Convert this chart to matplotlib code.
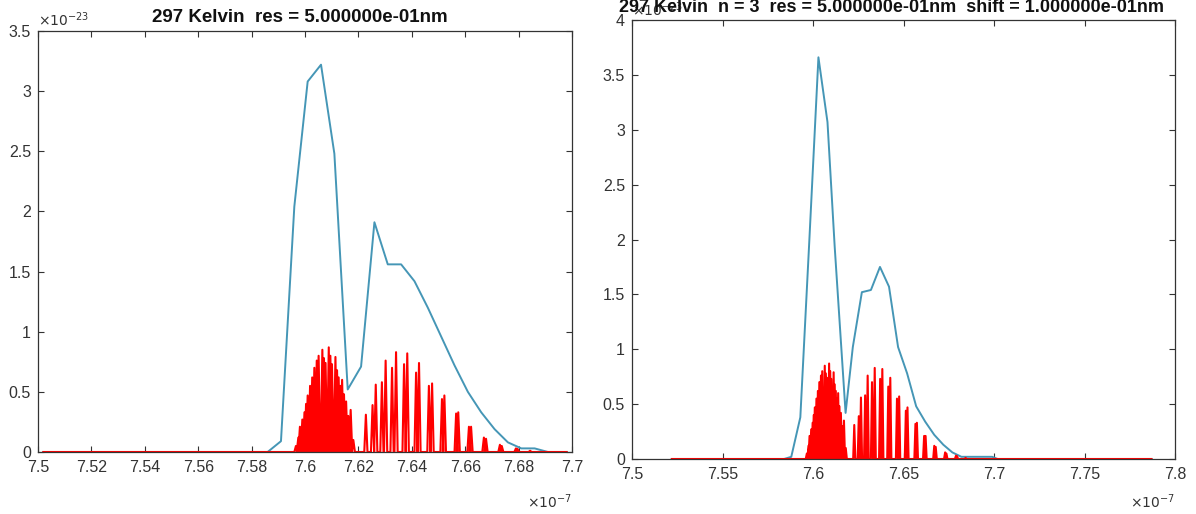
import matplotlib
matplotlib.use("Agg")
import matplotlib.pyplot as plt
import numpy as np

plt.rcParams['font.family'] = ['Liberation Sans', 'DejaVu Sans']

# ---------------- data (x in 1e-7 m, y in 1e-23) ----------------
# left panel, blue convolved spectrum
blue_left_x = [7.502, 7.586, 7.591, 7.596, 7.601, 7.606, 7.611, 7.616, 7.621, 7.626,
               7.631, 7.636, 7.641, 7.646, 7.651, 7.656, 7.661, 7.666, 7.671, 7.676,
               7.681, 7.686, 7.691, 7.698]
blue_left_y = [0.0, 0.0, 0.09, 2.04, 3.08, 3.22, 2.48, 0.52, 0.71, 1.91,
               1.56, 1.56, 1.42, 1.20, 0.96, 0.72, 0.50, 0.33, 0.19, 0.08,
               0.03, 0.03, 0.0, 0.0]

# right panel, blue convolved spectrum (n = 3, shifted)
blue_right_x = [7.522, 7.584, 7.588, 7.593, 7.598, 7.603, 7.608, 7.612, 7.618, 7.622,
                7.627, 7.632, 7.637, 7.642, 7.647, 7.652, 7.657, 7.662, 7.667, 7.672,
                7.677, 7.682, 7.690, 7.699, 7.702, 7.787]
blue_right_y = [0.0, 0.0, 0.02, 0.38, 2.00, 3.66, 3.07, 1.93, 0.42, 1.02,
                1.52, 1.54, 1.75, 1.57, 1.02, 0.78, 0.48, 0.34, 0.22, 0.13,
                0.06, 0.02, 0.02, 0.02, 0.0, 0.0]

# red line-by-line spectrum: line centres and peak heights
line_centres = [7.5966, 7.5975, 7.5981, 7.5990, 7.5998, 7.6004, 7.6010, 7.6019, 7.6027,
                7.6035, 7.6044, 7.6051, 7.6065, 7.6071, 7.6077, 7.6089, 7.6095, 7.6101,
                7.6114, 7.6120, 7.6126, 7.6132, 7.6139, 7.6146, 7.6154, 7.6162, 7.6171,
                7.6181,
                7.6228, 7.6253, 7.6265, 7.6288, 7.6302, 7.6326, 7.6341, 7.6371, 7.6383,
                7.6416, 7.6427, 7.6464, 7.6476, 7.6513, 7.6522, 7.6566, 7.6574, 7.6614,
                7.6622, 7.6670, 7.6678, 7.6730, 7.6737, 7.6790, 7.6796, 7.6843]
line_heights = [0.05, 0.12, 0.21, 0.27, 0.33, 0.40, 0.47, 0.55, 0.62,
                0.70, 0.76, 0.80, 0.85, 0.78, 0.74, 0.87, 0.80, 0.73,
                0.79, 0.68, 0.62, 0.55, 0.60, 0.48, 0.42, 0.30, 0.35,
                0.10,
                0.31, 0.39, 0.56, 0.58, 0.76, 0.70, 0.83, 0.73, 0.82,
                0.66, 0.74, 0.55, 0.57, 0.44, 0.47, 0.32, 0.33, 0.21,
                0.21, 0.12, 0.11, 0.06, 0.05, 0.03, 0.025, 0.01]
red_left_range = [7.502, 7.698]
red_right_range = [7.522, 7.787]

left_xticks = [7.5, 7.52, 7.54, 7.56, 7.58, 7.6, 7.62, 7.64, 7.66, 7.68, 7.7]
left_xticklabels = ['7.5', '7.52', '7.54', '7.56', '7.58', '7.6', '7.62', '7.64', '7.66', '7.68', '7.7']
left_yticks = [0, 0.5, 1, 1.5, 2, 2.5, 3, 3.5]
left_yticklabels = ['0', '0.5', '1', '1.5', '2', '2.5', '3', '3.5']
right_xticks = [7.5, 7.55, 7.6, 7.65, 7.7, 7.75, 7.8]
right_xticklabels = ['7.5', '7.55', '7.6', '7.65', '7.7', '7.75', '7.8']
right_yticks = [0, 0.5, 1, 1.5, 2, 2.5, 3, 3.5, 4]
right_yticklabels = ['0', '0.5', '1', '1.5', '2', '2.5', '3', '3.5', '4']

left_title = '297 Kelvin  res = 5.000000e-01nm'
right_title = '297 Kelvin  n = 3  res = 5.000000e-01nm  shift = 1.000000e-01nm'

BLUE = '#4596b6'
RED = '#ff0000'
AXC = '#333333'
HALF_WIDTH = 0.0006


def stick_line(centres, heights, xrange_):
    xs = [xrange_[0]]
    ys = [0.0]
    for c, h in zip(centres, heights):
        xs += [c - HALF_WIDTH, c, c + HALF_WIDTH]
        ys += [0.0, h, 0.0]
    xs.append(xrange_[1])
    ys.append(0.0)
    return xs, ys


fig = plt.figure(figsize=(11.96, 5.14), dpi=100)

axL = fig.add_axes([38 / 1196, 1 - 452 / 514, (572 - 38) / 1196, (452 - 31) / 514])
axR = fig.add_axes([632 / 1196, 1 - 459 / 514, (1175 - 632) / 1196, (459 - 20) / 514])


def style(ax, xlim, ylim, xt, xtl, yt, ytl):
    ax.set_xlim(*xlim)
    ax.set_ylim(*ylim)
    ax.set_xticks(xt)
    ax.set_xticklabels(xtl)
    ax.set_yticks(yt)
    ax.set_yticklabels(ytl)
    ax.tick_params(direction='in', length=4, width=0.8, colors=AXC, labelsize=11.5,
                   top=True, right=True)
    ax.tick_params(axis='x', pad=6)
    ax.tick_params(axis='y', pad=5)
    for s in ax.spines.values():
        s.set_color(AXC)
        s.set_linewidth(0.9)


# left panel
axL.plot(blue_left_x, blue_left_y, color=BLUE, lw=1.4)
rx, ry = stick_line(line_centres, line_heights, red_left_range)
axL.plot(rx, ry, color=RED, lw=1.5)
style(axL, (7.5, 7.7), (0, 3.5), left_xticks, left_xticklabels, left_yticks, left_yticklabels)
axL.text(0.0, 1.005, r'$\times10^{-23}$', transform=axL.transAxes, fontsize=10,
         color=AXC, ha='left', va='bottom')
axL.text(0.49, 1.012, left_title, transform=axL.transAxes, fontsize=13.5,
         fontweight='bold', ha='center', va='bottom', color='#111111')
axL.text(1.0, -0.095, r'$\times10^{-7}$', transform=axL.transAxes, fontsize=10,
         color=AXC, ha='right', va='top')

# right panel
axR.plot(blue_right_x, blue_right_y, color=BLUE, lw=1.4)
rx, ry = stick_line(line_centres, line_heights, red_right_range)
axR.plot(rx, ry, color=RED, lw=1.5)
style(axR, (7.5, 7.8), (0, 4), right_xticks, right_xticklabels, right_yticks, right_yticklabels)
axR.text(0.0, 1.003, r'$\times10^{-23}$', transform=axR.transAxes, fontsize=10,
         color=AXC, ha='left', va='bottom')
axR.text(0.477, 1.009, right_title, transform=axR.transAxes, fontsize=13,
         fontweight='bold', ha='center', va='bottom', color='#111111')
axR.text(1.0, -0.075, r'$\times10^{-7}$', transform=axR.transAxes, fontsize=10,
         color=AXC, ha='right', va='top')

fig.savefig('out.png', dpi=100, facecolor='white')
